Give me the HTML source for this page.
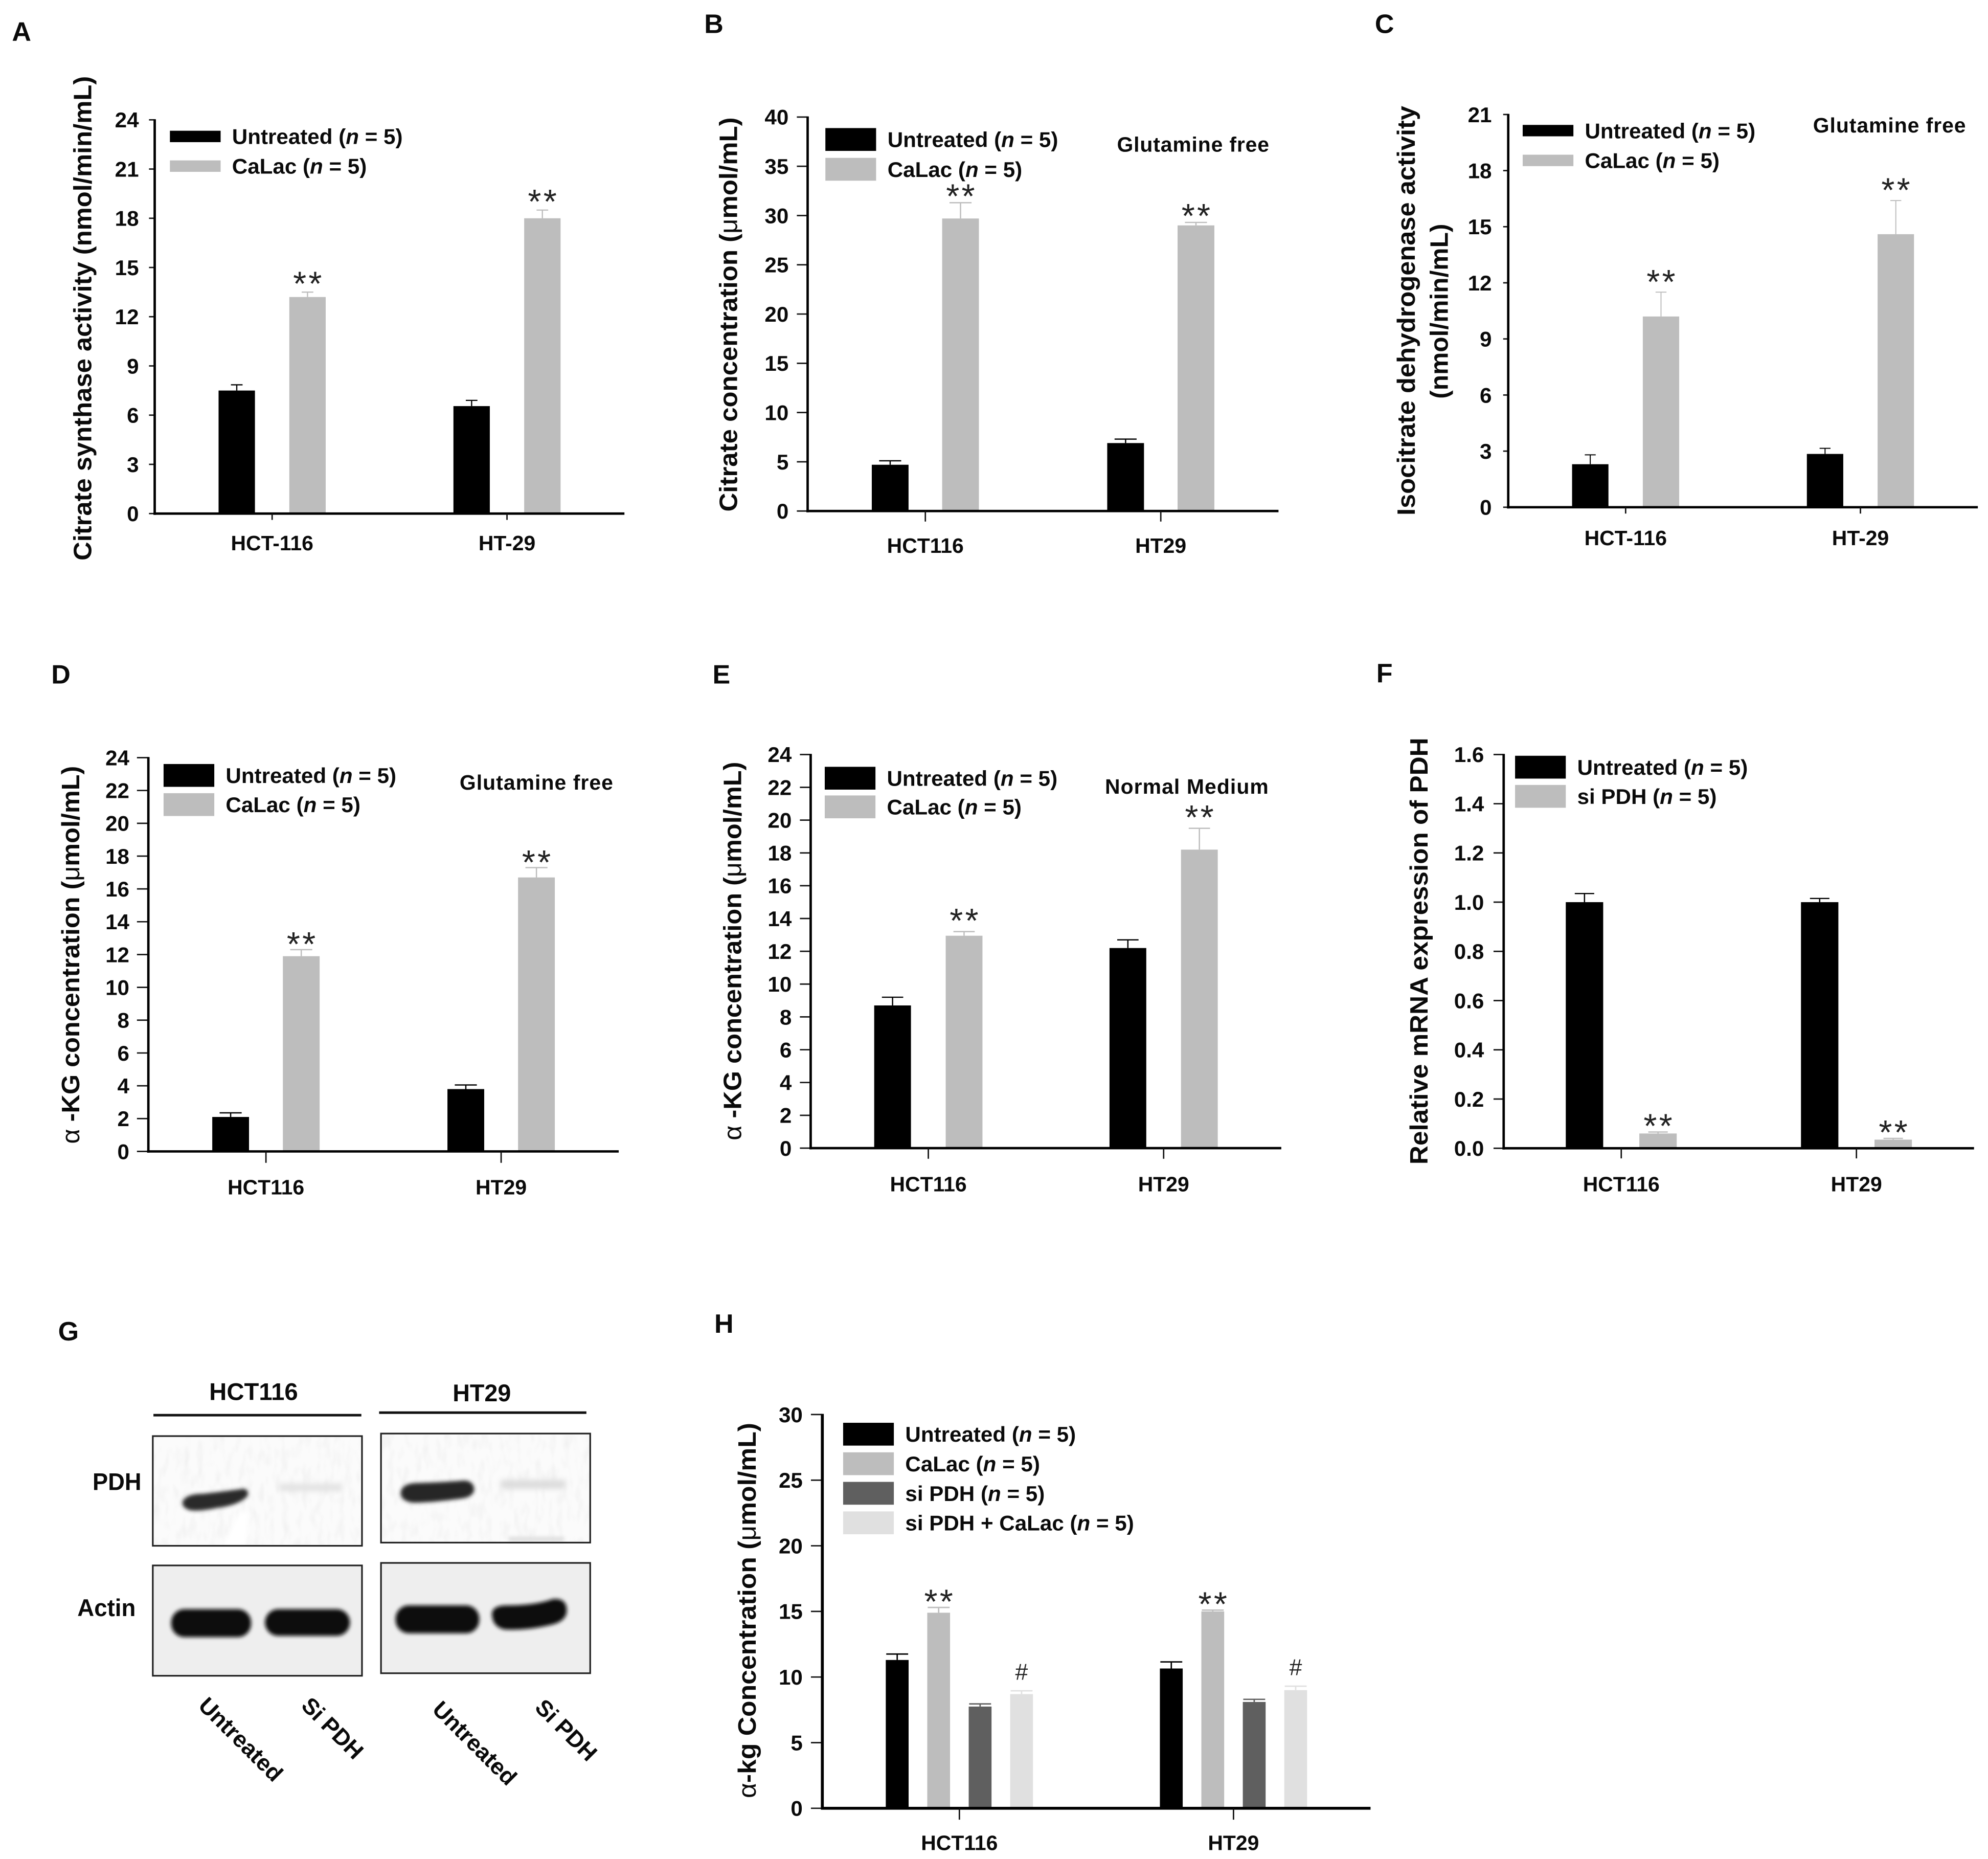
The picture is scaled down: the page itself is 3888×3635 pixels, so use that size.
<!DOCTYPE html>
<html lang="en">
<head>
<meta charset="utf-8">
<title>Metabolic enzyme activity panels</title>
<style>
html,body{margin:0;padding:0;background:#fff;}
svg{display:block;width:3888px;height:3635px;font-family:"Liberation Sans",Arial,sans-serif;}
.b{font-weight:700;fill:#0a0a0a;}
</style>
</head>
<body>
<svg id="figure" xmlns="http://www.w3.org/2000/svg" viewBox="0 0 1568 1466">
  <defs>
    <filter id="blur2" x="-30%" y="-100%" width="160%" height="300%"><feGaussianBlur stdDeviation="2.2"/></filter>
    <filter id="blur1" x="-30%" y="-100%" width="160%" height="300%"><feGaussianBlur stdDeviation="1.5"/></filter>
    <filter id="blur3" x="-30%" y="-100%" width="160%" height="300%"><feGaussianBlur stdDeviation="2.8"/></filter>
    <filter id="speckle" x="0" y="0" width="100%" height="100%">
      <feTurbulence type="fractalNoise" baseFrequency="0.18 0.07" numOctaves="2" seed="4"/>
      <feColorMatrix type="matrix" values="0 0 0 0 0.85  0 0 0 0 0.85  0 0 0 0 0.85  1.6 0 0 0 -0.72"/>
      <feGaussianBlur stdDeviation="0.5"/>
    </filter>
  </defs>

  <g>
    <text class="b" x="200" y="1104" font-size="19" text-anchor="middle" textLength="70" lengthAdjust="spacingAndGlyphs">HCT116</text>
    <text class="b" x="380" y="1105" font-size="19" text-anchor="middle" textLength="46" lengthAdjust="spacingAndGlyphs">HT29</text>
    <rect x="121" y="1115" width="164" height="2" fill="#111"/>
    <rect x="299" y="1113" width="163.5" height="2" fill="#111"/>
    <text class="b" x="111.5" y="1175" font-size="19" text-anchor="end" textLength="38.5" lengthAdjust="spacingAndGlyphs">PDH</text>
    <text class="b" x="107" y="1274.5" font-size="19" text-anchor="end" textLength="46" lengthAdjust="spacingAndGlyphs">Actin</text>

    <g>
      <rect x="120.5" y="1132.5" width="165" height="86.5" fill="#fbfbfb"/>
      <rect x="121" y="1133" width="164" height="85.5" fill="#fff" filter="url(#speckle)"/>
      <path d="M144 1184 Q147 1178 160 1178 Q178 1176 192 1174 Q197 1175 195 1180 Q188 1187 172 1189 Q158 1192 150 1191 Q143 1189 144 1184Z" fill="#2a2a2a" filter="url(#blur1)"/>
      <rect x="220" y="1170" width="50" height="6" fill="#e2e2e2" filter="url(#blur2)"/>
      <path d="M176 1219 L189 1193 L196 1193 L194 1219Z" fill="#ffffff" filter="url(#blur1)"/>
      <rect x="120.5" y="1132.5" width="165" height="86.5" fill="none" stroke="#222" stroke-width="1.3"/>
    </g>
    <g>
      <rect x="300.5" y="1130.5" width="165" height="86" fill="#fbfbfb"/>
      <rect x="301" y="1131" width="164" height="85" fill="#fff" filter="url(#speckle)"/>
      <path d="M316 1177 Q317 1170 328 1169.5 Q350 1169 366 1167.5 Q374 1168 374 1175 Q373 1181 362 1182 Q340 1185 326 1185 Q316 1184 316 1177Z" fill="#262626" filter="url(#blur1)"/>
      <rect x="395" y="1167" width="51" height="7" fill="#dcdcdc" filter="url(#blur2)"/>
      <rect x="401" y="1212" width="44" height="3.5" fill="#dddddd" filter="url(#blur1)"/>
      <rect x="300.5" y="1130.5" width="165" height="86" fill="none" stroke="#222" stroke-width="1.3"/>
    </g>
    <g>
      <rect x="120.5" y="1234.5" width="165" height="87" fill="#eeeeee" stroke="#222" stroke-width="1.3"/>
      <rect x="135" y="1269" width="63" height="22" rx="10.5" fill="#0c0c0c" filter="url(#blur1)"/>
      <rect x="209" y="1269" width="67" height="21" rx="10.5" fill="#0c0c0c" filter="url(#blur1)"/>
    </g>
    <g>
      <rect x="300.5" y="1232.5" width="165" height="87" fill="#eeeeee" stroke="#222" stroke-width="1.3"/>
      <rect x="312" y="1266" width="66" height="22" rx="10.5" fill="#0c0c0c" filter="url(#blur1)"/>
      <path d="M388 1272 Q389 1266 400 1266 Q422 1266 436 1261 Q447 1260 447 1270 Q447 1278 436 1281 Q416 1286 398 1285 Q388 1283 388 1272Z" fill="#0c0c0c" filter="url(#blur1)"/>
    </g>
    <text class="b" font-size="18" transform="translate(155.5,1346) rotate(45)" textLength="85" lengthAdjust="spacingAndGlyphs">Untreated</text>
    <text class="b" font-size="18" transform="translate(236.7,1346) rotate(45)" textLength="60" lengthAdjust="spacingAndGlyphs">Si PDH</text>
    <text class="b" font-size="18" transform="translate(340,1349) rotate(45)" textLength="85" lengthAdjust="spacingAndGlyphs">Untreated</text>
    <text class="b" font-size="18" transform="translate(421,1347.5) rotate(45)" textLength="60" lengthAdjust="spacingAndGlyphs">Si PDH</text>
  </g>
</svg>

<script>
// ---- Chart data ----
const hyphenCells = ['HCT-116', 'HT-29'];
const plainCells = ['HCT116', 'HT29'];

const aTicks = [0, 3, 6, 9, 12, 15, 18, 21, 24];
const aUntreated = [7.5, 6.55];
const aUntreatedErr = [0.35, 0.35];
const aCaLac = [13.2, 18.0];
const aCaLacErr = [0.3, 0.5];

const bTicks = [0, 5, 10, 15, 20, 25, 30, 35, 40];
const bUntreated = [4.7, 6.9];
const bUntreatedErr = [0.4, 0.4];
const bCaLac = [29.7, 29.0];
const bCaLacErr = [1.6, 0.3];

const cTicks = [0, 3, 6, 9, 12, 15, 18, 21];
const cUntreated = [2.3, 2.85];
const cUntreatedErr = [0.5, 0.3];
const cCaLac = [10.2, 14.6];
const cCaLacErr = [1.3, 1.8];

const dTicks = [0, 2, 4, 6, 8, 10, 12, 14, 16, 18, 20, 22, 24];
const dUntreated = [2.1, 3.8];
const dUntreatedErr = [0.25, 0.25];
const dCaLac = [11.9, 16.7];
const dCaLacErr = [0.4, 0.6];

const eTicks = [0, 2, 4, 6, 8, 10, 12, 14, 16, 18, 20, 22, 24];
const eUntreated = [8.7, 12.2];
const eUntreatedErr = [0.5, 0.5];
const eCaLac = [12.95, 18.2];
const eCaLacErr = [0.25, 1.3];

const fTicks = [0, 0.2, 0.4, 0.6, 0.8, 1.0, 1.2, 1.4, 1.6];
const fUntreated = [1.0, 1.0];
const fUntreatedErr = [0.035, 0.015];
const fSiPdh = [0.06, 0.035];
const fSiPdhErr = [0.006, 0.005];

const hTicks = [0, 5, 10, 15, 20, 25, 30];
const hUntreated = [11.3, 10.65];
const hUntreatedErr = [0.45, 0.5];
const hCaLac = [14.9, 15.0];
const hCaLacErr = [0.4, 0.1];
const hSiPdh = [7.75, 8.1];
const hSiPdhErr = [0.2, 0.2];
const hSiPdhCaLac = [8.7, 9.0];
const hSiPdhCaLacErr = [0.25, 0.3];

const BLACK = '#000000', GRAY = '#bdbdbd', DARK = '#5f5f5f', LIGHT = '#e0e0e0';
const NS = 'http://www.w3.org/2000/svg';
const fig = document.getElementById('figure');

function mk(parent, tag) {
  const el = document.createElementNS(NS, tag);
  parent.appendChild(el);
  return el;
}
function line(parent, x1, y1, x2, y2, stroke, w) {
  const l = mk(parent, 'line');
  l.setAttribute('x1', x1); l.setAttribute('y1', y1);
  l.setAttribute('x2', x2); l.setAttribute('y2', y2);
  l.setAttribute('stroke', stroke); l.setAttribute('stroke-width', w);
  return l;
}
function label(parent, x, y, html, size, anchor, cls) {
  const t = mk(parent, 'text');
  t.setAttribute('x', x); t.setAttribute('y', y);
  t.setAttribute('font-size', size);
  t.setAttribute('text-anchor', anchor || 'start');
  t.setAttribute('class', cls === undefined ? 'b' : cls);
  t.innerHTML = html;
  return t;
}
const nEq = '(<tspan font-style="italic">n</tspan> = 5)';
const greek = s => '<tspan font-weight="400">' + s + '</tspan>';

function panelLetter(letter, x, y) {
  const t = label(fig, x, y, letter, 21, 'middle');
  
  
}

function drawPanel(p) {
  const g = mk(fig, 'g');
  
  

  const maxV = p.ticks[p.ticks.length - 1];
  const yScale = v => p.y0 - (v / maxV) * (p.y0 - p.yTop);
  const catCenter = i => p.x0 + (p.x1 - p.x0) * (2 * i + 1) / (2 * p.cats.length);
  const n = p.series.length;
  const barX = (i, s) => catCenter(i) + (s - (n - 1) / 2) * p.step - p.barW / 2;

  // title
  p.title.forEach(tt => {
    const t = mk(g, 'text');
    t.setAttribute('class', 'b');
    t.setAttribute('font-size', '20');
    t.setAttribute('text-anchor', 'middle');
    t.setAttribute('transform', 'translate(' + tt.x + ',' + tt.cy + ') rotate(-90)');
    t.setAttribute('textLength', tt.len);
    t.setAttribute('lengthAdjust', 'spacingAndGlyphs');
    t.innerHTML = tt.html;
    
    
  });

  // y ticks
  p.ticks.forEach(v => {
    const y = yScale(v);
    const tk = line(g, p.x0 - p.tickLen, y, p.x0, y, '#111', 1.1);
    
    
    const txt = p.decimals ? v.toFixed(p.decimals) : String(v);
    const lb = label(g, p.x0 - p.labelGap, y + 6, txt, 17, 'end');
    
    
  });

  // bars + error bars
  p.series.forEach((s, si) => {
    s.values.forEach((v, i) => {
      const x = barX(i, si);
      const top = yScale(v);
      const errTop = yScale(v + s.errors[i]);
      const cx = x + p.barW / 2;
      const eb = mk(g, 'g');
      
      
      line(eb, cx, top, cx, errTop, s.color, p.errW);
      line(eb, cx - p.barW * p.capFrac, errTop, cx + p.barW * p.capFrac, errTop, s.color, p.errW);
      const r = mk(g, 'rect');
      r.setAttribute('x', x);
      r.setAttribute('y', top);
      r.setAttribute('width', p.barW);
      r.setAttribute('height', p.y0 - top);
      r.setAttribute('fill', s.color);
      
      
      if (s.mark) {
        const isStar = s.mark === '**';
        const t = isStar
          ? label(g, cx + 0.8, errTop - p.starGap + 13.5, s.mark, 27, 'middle', '')
          : label(g, cx, errTop - 8.7, s.mark, 18, 'middle', '');
        t.setAttribute('fill', '#222');
        if (isStar) t.setAttribute('letter-spacing', '1.7');
        
        
      }
    });
  });

  // axes
  const ya = line(g, p.x0, p.yTop - 0.5, p.x0, p.y0 + 1, '#000', p.axisW);
  
  
  const xa = line(g, p.x0 - 1, p.y0, p.x1, p.y0, '#000', p.axisW);
  
  

  // categories
  p.cats.forEach((c, i) => {
    const cx = catCenter(i);
    const tk = line(g, cx, p.y0, cx, p.y0 + p.xTickLen, '#111', 1.1);
    
    
    const lb = label(g, cx, p.y0 + p.catDy, c, 16.5, 'middle');
    
    
  });

  // legend
  p.series.forEach((s, si) => {
    const ly = p.legY + si * p.legStep;
    const sw = mk(g, 'rect');
    sw.setAttribute('x', p.legX);
    sw.setAttribute('y', ly - p.legH / 2);
    sw.setAttribute('width', 40);
    sw.setAttribute('height', p.legH);
    sw.setAttribute('fill', s.color);
    
    
    const t = label(g, p.legX + 49, ly + 6, s.name + ' ' + nEq, 17);
    
    
  });

  if (p.note) {
    const t = label(g, p.note.x, p.note.y, p.note.text, 16.5);
    t.setAttribute('textLength', p.note.len);
    t.setAttribute('lengthAdjust', 'spacing');
    
    
  }
}

const ser = (key, name, color, values, errors, mark) => ({ key, name, color, values, errors, mark });

panelLetter('A', 17, 32);
panelLetter('B', 563, 26);
panelLetter('C', 1092, 26);
panelLetter('D', 48, 539);
panelLetter('E', 569, 539);
panelLetter('F', 1092, 538);
panelLetter('G', 54, 1057);
panelLetter('H', 571, 1051);

drawPanel({ id: 'a', x0: 122, x1: 492.5, yTop: 94.5, y0: 405, ticks: aTicks, cats: hyphenCells, barW: 28.7, step: 55.8, catDy: 29, legX: 134, legY: 107.6, legStep: 23.4, legH: 9,
  tickLen: 4.5, xTickLen: 5, labelGap: 12.5, capFrac: 0.16, errW: 0.95, axisW: 1.9, starGap: 11,
  title: [{ x: 72, cy: 251, len: 382, html: 'Citrate synthase activity (nmol/min/mL)' }],
  series: [ser('untreated', 'Untreated', BLACK, aUntreated, aUntreatedErr), ser('calac', 'CaLac', GRAY, aCaLac, aCaLacErr, '**')] });

drawPanel({ id: 'b', x0: 637, x1: 1008.4, yTop: 92.3, y0: 403, ticks: bTicks, cats: plainCells, barW: 29, step: 55.5, catDy: 33, legX: 651, legY: 110, legStep: 23.5, legH: 18,
  tickLen: 8.5, xTickLen: 8.3, labelGap: 15, capFrac: 0.3, errW: 1, axisW: 1.9, starGap: 9.5,
  title: [{ x: 581.3, cy: 248, len: 311, html: 'Citrate concentration (' + greek('&#956;') + 'mol/mL)' }],
  note: { x: 881, y: 119.5, text: 'Glutamine free', len: 120 },
  series: [ser('untreated', 'Untreated', BLACK, bUntreated, bUntreatedErr), ser('calac', 'CaLac', GRAY, bCaLac, bCaLacErr, '**')] });

drawPanel({ id: 'c', x0: 1189.6, x1: 1560, yTop: 90.3, y0: 400, ticks: cTicks, cats: hyphenCells, barW: 28.7, step: 55.8, catDy: 30, legX: 1201, legY: 103, legStep: 23.5, legH: 9,
  tickLen: 4, xTickLen: 5, labelGap: 13, capFrac: 0.15, errW: 0.8, axisW: 1.9, starGap: 12.5,
  title: [{ x: 1116, cy: 245, len: 323, html: 'Isocitrate dehydrogenase activity' }, { x: 1142, cy: 245.5, len: 138, html: '(nmol/min/mL)' }],
  note: { x: 1430, y: 104.5, text: 'Glutamine free', len: 120.5 },
  series: [ser('untreated', 'Untreated', BLACK, cUntreated, cUntreatedErr), ser('calac', 'CaLac', GRAY, cCaLac, cCaLacErr, '**')] });

drawPanel({ id: 'd', x0: 117, x1: 488, yTop: 597.5, y0: 908, ticks: dTicks, cats: plainCells, barW: 29, step: 55.7, catDy: 34, legX: 129, legY: 611.5, legStep: 23, legH: 18,
  tickLen: 9, xTickLen: 9, labelGap: 15, capFrac: 0.3, errW: 1, axisW: 1.9, starGap: 8.5,
  title: [{ x: 62.5, cy: 753, len: 298, html: greek('&#945;') + ' -KG concentration (' + greek('&#956;') + 'mol/mL)' }],
  note: { x: 362.5, y: 622.7, text: 'Glutamine free', len: 121 },
  series: [ser('untreated', 'Untreated', BLACK, dUntreated, dUntreatedErr), ser('calac', 'CaLac', GRAY, dCaLac, dCaLacErr, '**')] });

drawPanel({ id: 'e', x0: 639.4, x1: 1010.6, yTop: 595, y0: 905.4, ticks: eTicks, cats: plainCells, barW: 29, step: 56.4, catDy: 34, legX: 650.5, legY: 613.7, legStep: 22.6, legH: 18,
  tickLen: 8.5, xTickLen: 8.4, labelGap: 15, capFrac: 0.29, errW: 1, axisW: 1.9, starGap: 13,
  title: [{ x: 584.5, cy: 750, len: 298.5, html: greek('&#945;') + ' -KG concentration (' + greek('&#956;') + 'mol/mL)' }],
  note: { x: 871.5, y: 626, text: 'Normal Medium', len: 129 },
  series: [ser('untreated', 'Untreated', BLACK, eUntreated, eUntreatedErr), ser('calac', 'CaLac', GRAY, eCaLac, eCaLacErr, '**')] });

drawPanel({ id: 'f', x0: 1186, x1: 1557, yTop: 595, y0: 905.5, ticks: fTicks, decimals: 1, cats: plainCells, barW: 29.5, step: 58, catDy: 34, legX: 1195, legY: 605, legStep: 23, legH: 18,
  tickLen: 8, xTickLen: 8, labelGap: 15.5, capFrac: 0.26, errW: 1, axisW: 1.9, starGap: 9,
  title: [{ x: 1126, cy: 750, len: 336.6, html: 'Relative mRNA expression of PDH' }],
  series: [ser('untreated', 'Untreated', BLACK, fUntreated, fUntreatedErr), ser('si-pdh', 'si PDH', GRAY, fSiPdh, fSiPdhErr, '**')] });

drawPanel({ id: 'h', x0: 648.6, x1: 1081, yTop: 1115.5, y0: 1426, ticks: hTicks, cats: plainCells, barW: 18, step: 32.7, catDy: 33, legX: 665, legY: 1131, legStep: 23.3, legH: 18,
  tickLen: 9, xTickLen: 9, labelGap: 15.5, capFrac: 0.48, errW: 1.1, axisW: 2.3, starGap: 9,
  title: [{ x: 596, cy: 1270, len: 296, html: greek('&#945;') + '-kg Concentration (' + greek('&#956;') + 'mol/mL)' }],
  series: [ser('untreated', 'Untreated', BLACK, hUntreated, hUntreatedErr), ser('calac', 'CaLac', GRAY, hCaLac, hCaLacErr, '**'), ser('si-pdh', 'si PDH', DARK, hSiPdh, hSiPdhErr), ser('si-pdh-calac', 'si PDH + CaLac', LIGHT, hSiPdhCaLac, hSiPdhCaLacErr, '#')] });
</script>
</body>
</html>
